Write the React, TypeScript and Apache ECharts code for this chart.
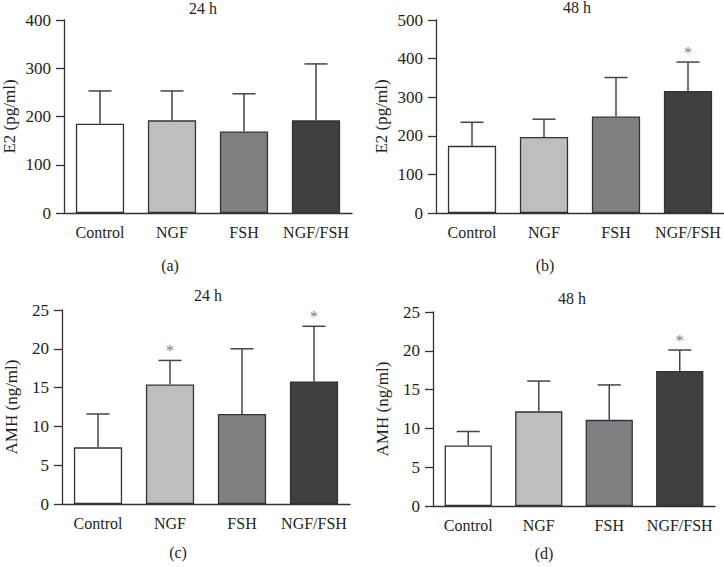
import React, { useEffect, useRef } from "react";
import * as echarts from "echarts";

const categories = ["Control", "NGF", "FSH", "NGF/FSH"];

const e2_24_mean = [185, 192, 169, 192];
const e2_24_err = [253, 253, 247, 309];
const e2_24_sig = [false, false, false, false];

const e2_48_mean = [174, 197, 250, 316];
const e2_48_err = [235, 243, 351, 391];
const e2_48_sig = [false, false, false, true];

const amh_24_mean = [7.3, 15.4, 11.6, 15.8];
const amh_24_err = [11.6, 18.5, 20.0, 22.9];
const amh_24_sig = [false, true, false, true];

const amh_48_mean = [7.8, 12.2, 11.1, 17.4];
const amh_48_err = [9.6, 16.1, 15.6, 20.1];
const amh_48_sig = [false, false, false, true];

const e2Ticks = { a: [0, 400, 100], b: [0, 500, 100] };
const amhTicks = [0, 25, 5];

const barColors = ["#ffffff", "#bdbec0", "#7f8083", "#404042"];
const FONT = "Liberation Serif";
const TXT = "#231f20";
const AX = "#333333";

export default function App() {
  const ref = useRef<HTMLDivElement>(null);
  useEffect(() => {
    if (!ref.current) return;
    const chart = echarts.init(ref.current, null, { renderer: "svg" });

    const panels = [
      { grid: { left: 63, top: 20, width: 289, height: 193 }, mean: e2_24_mean, err: e2_24_err, sig: e2_24_sig, y: e2Ticks.a, name: "E2 (pg/ml)", gap: 46 },
      { grid: { left: 436, top: 20, width: 288, height: 193 }, mean: e2_48_mean, err: e2_48_err, sig: e2_48_sig, y: e2Ticks.b, name: "E2 (pg/ml)", gap: 46 },
      { grid: { left: 62, top: 310, width: 288, height: 194 }, mean: amh_24_mean, err: amh_24_err, sig: amh_24_sig, y: amhTicks, name: "AMH (ng/ml)", gap: 42 },
      { grid: { left: 433, top: 312, width: 282, height: 194 }, mean: amh_48_mean, err: amh_48_err, sig: amh_48_sig, y: amhTicks, name: "AMH (ng/ml)", gap: 42 },
    ];

    const grids = panels.map((p) => ({ ...p.grid, containLabel: false }));
    const xAxes = panels.map((p, i) => ({
      type: "category",
      gridIndex: i,
      data: categories,
      axisLine: { lineStyle: { color: AX, width: 1.3 } },
      axisTick: { alignWithLabel: true, length: 5, lineStyle: { color: AX, width: 1.3 } },
      axisLabel: { color: TXT, fontFamily: FONT, fontSize: 16, margin: 11, interval: 0 },
    }));
    const yAxes = panels.map((p, i) => ({
      type: "value",
      gridIndex: i,
      min: p.y[0],
      max: p.y[1],
      interval: p.y[2],
      name: p.name,
      nameLocation: "middle",
      nameGap: p.gap,
      nameRotate: 90,
      nameTextStyle: { color: TXT, fontFamily: FONT, fontSize: 17 },
      axisLine: { show: true, lineStyle: { color: AX, width: 1.3 } },
      axisTick: { show: true, length: 8, lineStyle: { color: AX, width: 1.3 } },
      axisLabel: { color: TXT, fontFamily: FONT, fontSize: 17, margin: 13 },
      splitLine: { show: false },
    }));

    const series: any[] = [];
    panels.forEach((p, i) => {
      series.push({
        type: "bar",
        xAxisIndex: i,
        yAxisIndex: i,
        barWidth: "67%",
        data: p.mean.map((v, k) => ({ value: v, itemStyle: { color: barColors[k] } })),
        itemStyle: { borderColor: AX, borderWidth: 1.3 },
        z: 2,
      });
      series.push({
        type: "custom",
        xAxisIndex: i,
        yAxisIndex: i,
        z: 3,
        data: p.mean.map((v, k) => [k, v, p.err[k]]),
        encode: { x: 0, y: [1, 2] },
        renderItem: (params: any, api: any) => {
          const idx = api.value(0);
          const p0 = api.coord([idx, api.value(1)]);
          const p1 = api.coord([idx, api.value(2)]);
          const half = 11.5;
          const style = { stroke: "#444444", lineWidth: 1.5 };
          return {
            type: "group",
            children: [
              { type: "line", shape: { x1: p0[0], y1: p0[1], x2: p1[0], y2: p1[1] }, style },
              { type: "line", shape: { x1: p1[0] - half, y1: p1[1], x2: p1[0] + half, y2: p1[1] }, style },
            ],
          };
        },
      });
      series.push({
        type: "scatter",
        xAxisIndex: i,
        yAxisIndex: i,
        z: 4,
        symbolSize: 1,
        itemStyle: { color: "rgba(0,0,0,0)" },
        data: p.err.map((v, k) => (p.sig[k] ? [k, v] : null)).filter((d) => d !== null),
        label: {
          show: true,
          position: "top",
          distance: 1,
          formatter: "*",
          color: "#555555",
          fontFamily: FONT,
          fontSize: 16,
        },
      });
    });

    const t = (text: string, x: number, y: number, size = 16) => ({
      type: "text",
      x,
      y,
      style: { text, fill: TXT, fontFamily: FONT, fontSize: size, align: "center", verticalAlign: "middle" },
    });

    chart.setOption({
      animation: false,
      grid: grids,
      xAxis: xAxes,
      yAxis: yAxes,
      series,
      graphic: [
        t("24 h", 203, 8, 16),
        t("48 h", 577, 7, 16),
        t("24 h", 208, 295, 16),
        t("48 h", 572, 298, 16),
        t("(a)", 170, 265),
        t("(b)", 545, 265),
        t("(c)", 178, 552),
        t("(d)", 544, 553),
      ],
    });
    return () => chart.dispose();
  }, []);
  return (
    <div
      ref={ref}
      style={{ position: "fixed", left: 0, top: 0, width: 724, height: 567, background: "#fff" }}
    />
  );
}
